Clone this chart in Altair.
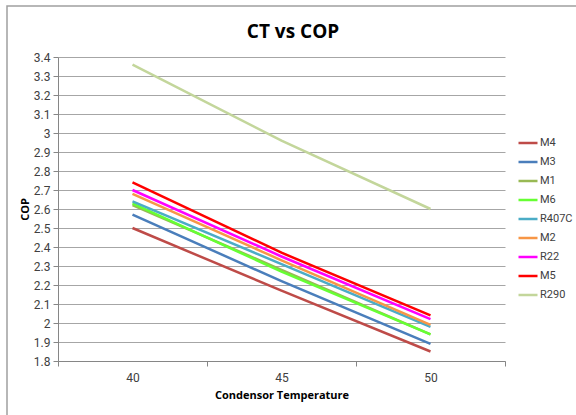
import altair as alt
import pandas as pd

temps = [40, 45, 50]
series = ["M4", "M3", "M1", "M6", "R407C", "M2", "R22", "M5", "R290"]
colors = ["#BE4B48", "#4A7EBB", "#98B954", "#66FF33", "#4BACC6",
          "#F79646", "#FF00FF", "#FF0000", "#C3D69B"]
cop_M4 = [2.50, 2.17, 1.85]
cop_M3 = [2.57, 2.22, 1.89]
cop_M1 = [2.62, 2.28, 1.94]
cop_M6 = [2.63, 2.27, 1.94]
cop_R407C = [2.64, 2.31, 1.98]
cop_M2 = [2.68, 2.33, 1.99]
cop_R22 = [2.70, 2.35, 2.02]
cop_M5 = [2.74, 2.37, 2.04]
cop_R290 = [3.36, 2.96, 2.60]
values = [cop_M4, cop_M3, cop_M1, cop_M6, cop_R407C, cop_M2, cop_R22, cop_M5, cop_R290]
title_text = "CT vs COP"

y_ticks = [round(1.8 + 0.1 * i, 1) for i in range(17)]
x_ticks = [37.5, 40, 42.5, 45, 47.5, 50, 52.5]

rows = []
for i, (name, vals) in enumerate(zip(series, values)):
    for t, v in zip(temps, vals):
        rows.append({"series": name, "order": i, "temp": t, "cop": v})
df = pd.DataFrame(rows)

font = "Roboto"
tfont = "Open Sans"

one = pd.DataFrame({"a": [0]})

border = alt.Chart(one).mark_rect(
    fill=None, stroke="#A0A0A0", strokeWidth=1.5
).encode(
    x=alt.value(-51), x2=alt.value(530), y=alt.value(-51), y2=alt.value(370)
)

title = alt.Chart(one).mark_text(
    font=tfont, fontSize=19, fontWeight="bold", color="#000000",
    align="center", baseline="alphabetic"
).encode(x=alt.value(235), y=alt.value(-19), text=alt.value(title_text))

lines = alt.Chart(df).mark_line(strokeWidth=2.5, clip=False).encode(
    x=alt.X("temp:Q",
            scale=alt.Scale(domain=[37.5, 52.5], nice=False, zero=False),
            axis=alt.Axis(values=x_ticks, grid=False,
                          labelExpr="datum.value % 5 == 0 ? datum.label : ''",
                          tickOpacity=alt.ExprRef("datum.value % 5 == 0 ? 0 : 1"),
                          title="Condensor Temperature", titleFont=tfont,
                          titleFontSize=11, titleFontWeight="bold",
                          titleColor="#000000", titlePadding=6,
                          labelFont=font, labelFontSize=12, labelColor="#404040",
                          labelPadding=6, tickSize=5, tickColor="#868686",
                          domainColor="#868686", labelFlush=False)),
    y=alt.Y("cop:Q",
            scale=alt.Scale(domain=[1.8, 3.4], nice=False, zero=False),
            axis=alt.Axis(values=y_ticks, format="~g", grid=True,
                          gridColor="#A6A6A6", gridWidth=1,
                          title="COP", titleFont=tfont, titleFontSize=11,
                          titleFontWeight="bold", titleColor="#000000",
                          titlePadding=3,
                          labelFont=font, labelFontSize=12, labelColor="#404040",
                          labelPadding=3, tickSize=5, tickColor="#868686",
                          domainColor="#868686")),
    color=alt.Color("series:N",
                    scale=alt.Scale(domain=series, range=colors),
                    sort=series,
                    legend=alt.Legend(orient="none", legendX=459, legendY=75,
                                      title=None, symbolType="stroke",
                                      symbolSize=361, symbolStrokeWidth=2.5,
                                      rowPadding=3, labelFont=font,
                                      labelFontSize=11, labelColor="#404040",
                                      labelOffset=1)),
    order=alt.Order("order:Q"),
    detail="series:N",
)

chart = alt.layer(border, title, lines).properties(
    width=447, height=304,
    padding={"left": 58, "top": 57, "right": 71, "bottom": 54},
    autosize=alt.AutoSizeParams(type="none"),
).configure_view(stroke=None)

chart.save("out.html", embed_options={"renderer": "svg", "actions": False})
